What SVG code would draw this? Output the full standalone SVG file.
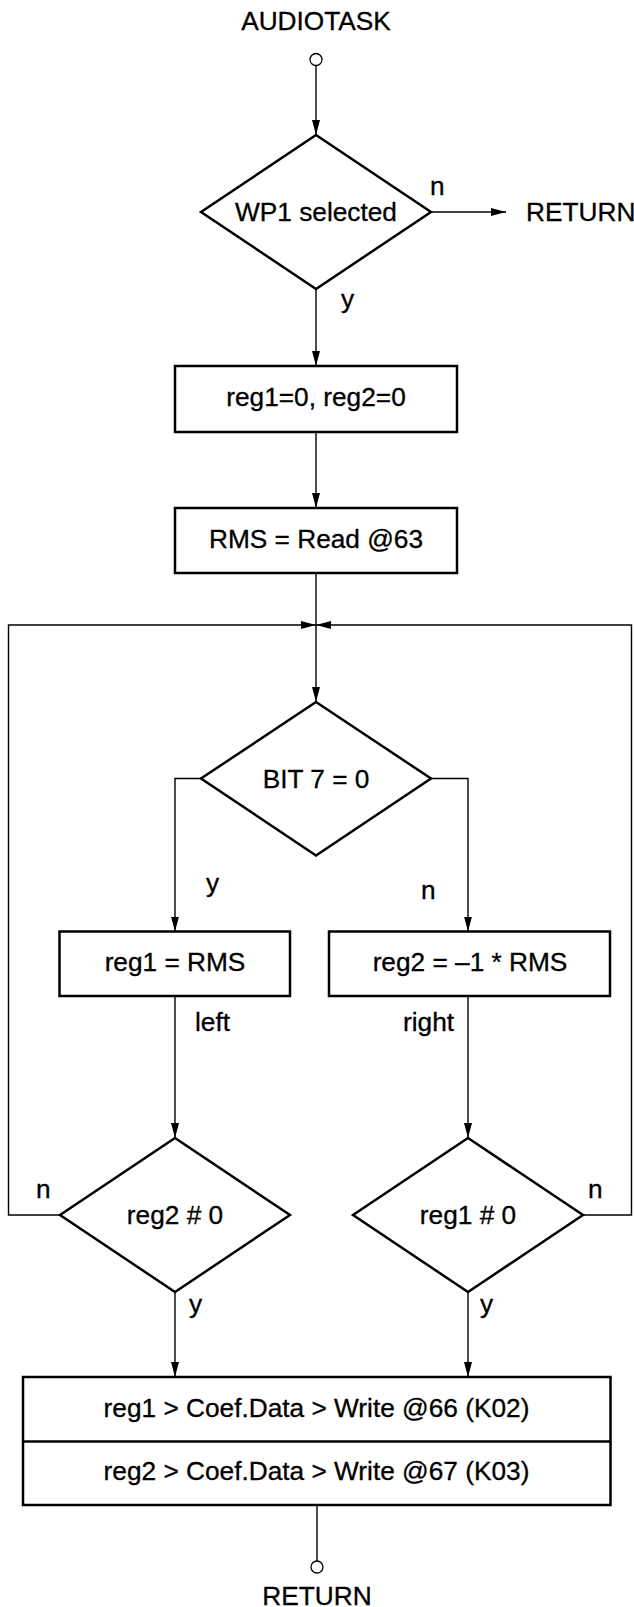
<svg xmlns="http://www.w3.org/2000/svg" width="634" height="1607" viewBox="0 0 634 1607">
  <style>
    .shape { fill: #fff; stroke: #000; stroke-width: 2.5; stroke-linejoin: miter; }
    .term { fill: #fff; stroke: #000; stroke-width: 1.3; }
    .wire { fill: none; stroke: #000; stroke-width: 1.4; }
    .t { font-family: "Liberation Sans", Arial, Helvetica, sans-serif; font-size: 25px; fill: #000; stroke: #000; stroke-width: 0.3; }
    .c { text-anchor: middle; }
  </style>
  <defs>
    <marker id="arrow" markerUnits="userSpaceOnUse" markerWidth="16" markerHeight="9" refX="15" refY="4" orient="auto">
      <path d="M0,0 L15,4 L0,8 z" fill="#000"/>
    </marker>
  </defs>
  <rect width="634" height="1607" fill="#fff"/>

  <!-- connectors -->
  <g id="connectors">
    <line class="wire" x1="316" y1="65.5" x2="316" y2="135" marker-end="url(#arrow)"/>
    <line class="wire" x1="431" y1="212" x2="506" y2="212" marker-end="url(#arrow)"/>
    <line class="wire" x1="316" y1="289" x2="316" y2="366" marker-end="url(#arrow)"/>
    <line class="wire" x1="316" y1="432" x2="316" y2="508" marker-end="url(#arrow)"/>
    <line class="wire" x1="316" y1="573" x2="316" y2="702" marker-end="url(#arrow)"/>
    <!-- BIT 7 branches -->
    <polyline class="wire" points="201,778.5 175,778.5 175,931.5" marker-end="url(#arrow)"/>
    <polyline class="wire" points="431,778.5 468,778.5 468,931.5" marker-end="url(#arrow)"/>
    <!-- left / right paths -->
    <line class="wire" x1="175" y1="996" x2="175" y2="1138" marker-end="url(#arrow)"/>
    <line class="wire" x1="468" y1="996" x2="468" y2="1138" marker-end="url(#arrow)"/>
    <!-- loop back to the top -->
    <polyline class="wire" points="60,1215 8.5,1215 8.5,625 316,625" marker-end="url(#arrow)"/>
    <polyline class="wire" points="583,1215 631.5,1215 631.5,625 316,625" marker-end="url(#arrow)"/>
    <!-- yes paths into the write block -->
    <line class="wire" x1="175" y1="1292" x2="175" y2="1377" marker-end="url(#arrow)"/>
    <line class="wire" x1="468" y1="1292" x2="468" y2="1377" marker-end="url(#arrow)"/>
    <line class="wire" x1="317" y1="1505" x2="317" y2="1561"/>

    <text class="t" transform="translate(430,195) scale(1.05,1)">n</text>
    <text class="t" transform="translate(341,308) scale(1.05,1)">y</text>
    <text class="t" transform="translate(206,892) scale(1.05,1)">y</text>
    <text class="t" transform="translate(421,899) scale(1.05,1)">n</text>
    <text class="t" transform="translate(195,1031) scale(1.05,1)">left</text>
    <text class="t" transform="translate(403,1031) scale(1.05,1)">right</text>
    <text class="t" transform="translate(36,1198) scale(1.05,1)">n</text>
    <text class="t" transform="translate(588,1198) scale(1.05,1)">n</text>
    <text class="t" transform="translate(189,1313) scale(1.05,1)">y</text>
    <text class="t" transform="translate(480,1313) scale(1.05,1)">y</text>
  </g>

  <g id="start">
    <text class="t c" transform="translate(316,29.5) scale(1.05,1)">AUDIOTASK</text>
    <circle class="term" cx="316" cy="59.5" r="6"/>
  </g>

  <g id="wp1-selected">
    <polygon class="shape" points="316,135 431,212 316,289 201,212"/>
    <text class="t c" transform="translate(316,221) scale(1.05,1)">WP1 selected</text>
  </g>

  <g id="return-early">
    <text class="t" transform="translate(526,221) scale(1.05,1)">RETURN</text>
  </g>

  <g id="init-regs">
    <rect class="shape" x="175" y="366" width="282" height="66"/>
    <text class="t c" transform="translate(316,406) scale(1.05,1)">reg1=0, reg2=0</text>
  </g>

  <g id="read-rms">
    <rect class="shape" x="175" y="508" width="282" height="65"/>
    <text class="t c" transform="translate(316,548) scale(1.05,1)">RMS = Read @63</text>
  </g>

  <g id="bit7">
    <polygon class="shape" points="316,702 431,778.5 316,855.5 201,778.5"/>
    <text class="t c" transform="translate(316,788) scale(1.05,1)">BIT 7 = 0</text>
  </g>

  <g id="set-reg1">
    <rect class="shape" x="59.5" y="931.5" width="230.5" height="64.5"/>
    <text class="t c" transform="translate(175,971) scale(1.05,1)">reg1 = RMS</text>
  </g>

  <g id="set-reg2">
    <rect class="shape" x="329" y="931.5" width="281" height="64.5"/>
    <text class="t c" transform="translate(470,971) scale(1.05,1)">reg2 = –1 * RMS</text>
  </g>

  <g id="reg2-nonzero">
    <polygon class="shape" points="175,1138 290,1215 175,1292 60,1215"/>
    <text class="t c" transform="translate(175,1224) scale(1.05,1)">reg2 # 0</text>
  </g>

  <g id="reg1-nonzero">
    <polygon class="shape" points="468,1138 583,1215 468,1292 353,1215"/>
    <text class="t c" transform="translate(468,1224) scale(1.05,1)">reg1 # 0</text>
  </g>

  <g id="write-coef">
    <rect class="shape" x="23" y="1377" width="587.5" height="128"/>
    <line class="shape" x1="23" y1="1441.5" x2="610.5" y2="1441.5"/>
    <text class="t c" transform="translate(316.5,1416.5) scale(1.05,1)">reg1 &gt; Coef.Data &gt; Write @66 (K02)</text>
    <text class="t c" transform="translate(316.5,1479.5) scale(1.05,1)">reg2 &gt; Coef.Data &gt; Write @67 (K03)</text>
  </g>

  <g id="end">
    <circle class="term" cx="317" cy="1567" r="6"/>
    <text class="t c" transform="translate(317,1605) scale(1.05,1)">RETURN</text>
  </g>
</svg>
